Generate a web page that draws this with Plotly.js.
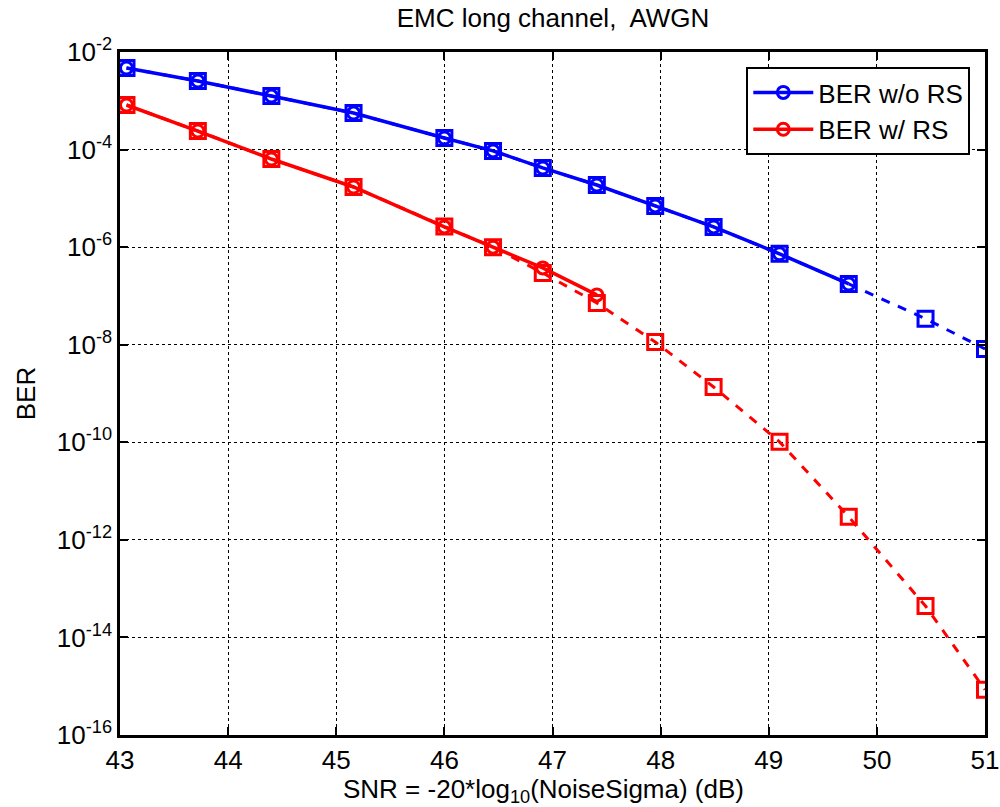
<!DOCTYPE html>
<html><head><meta charset="utf-8">
<script src="https://cdn.plot.ly/plotly-3.0.1.min.js"></script>
<style>html,body{margin:0;padding:0;background:#fff}#chart{width:1000px;height:807px}</style>
</head><body><div id="chart"></div>
<script>
const snr = [43.06, 43.72, 44.40, 45.16, 46.00, 46.45, 46.91, 47.41, 47.95, 48.49, 49.10, 49.74, 50.45, 51.00];
const berNoRsCircle = [4.7e-3, 2.55e-3, 1.25e-3, 5.6e-4, 1.73e-4, 9.4e-5, 4.2e-5, 1.88e-5, 7.0e-6, 2.6e-6, 7.3e-7, 1.76e-7];
const berNoRsSquare = [4.7e-3, 2.55e-3, 1.25e-3, 5.6e-4, 1.73e-4, 9.4e-5, 4.2e-5, 1.88e-5, 7.0e-6, 2.6e-6, 7.3e-7, 1.76e-7, 3.4e-8, 8.2e-9];
const berRsCircle = [8.2e-4, 2.4e-4, 6.4e-5, 1.71e-5, 2.6e-6, 1.0e-6, 3.75e-7, 1.05e-7];
const berRsSquare = [8.2e-4, 2.4e-4, 6.4e-5, 1.71e-5, 2.65e-6, 1.0e-6, 2.96e-7, 7.2e-8, 1.14e-8, 1.36e-9, 1.02e-10, 2.96e-12, 4.4e-14, 8.5e-16];
const yTickVals = [1e-16, 1e-14, 1e-12, 1e-10, 1e-8, 1e-6, 1e-4, 1e-2];
const yTickText = ['10<sup>-16</sup>','10<sup>-14</sup>','10<sup>-12</sup>','10<sup>-10</sup>','10<sup>-8</sup>','10<sup>-6</sup>','10<sup>-4</sup>','10<sup>-2</sup>'];
const xTickVals = [43,44,45,46,47,48,49,50,51];
const xTitle = 'SNR = -20*log<sub>10</sub>(NoiseSigma) (dB)';

const BLUE = '#0000ff', RED = '#ff0000';
const traces = [
  {x: snr, y: berNoRsSquare, mode: 'lines+markers', showlegend: false,
   line: {color: BLUE, width: 3, dash: 'dash'},
   marker: {symbol: 'square-open', size: 15, color: BLUE, line: {width: 3, color: BLUE}}},
  {x: snr, y: berRsSquare, mode: 'lines+markers', showlegend: false,
   line: {color: RED, width: 3, dash: 'dash'},
   marker: {symbol: 'square-open', size: 15, color: RED, line: {width: 3, color: RED}}},
  {x: snr.slice(0, berNoRsCircle.length), y: berNoRsCircle, mode: 'lines+markers', name: 'BER w/o RS',
   line: {color: BLUE, width: 3.5},
   marker: {symbol: 'circle-open', size: 12, color: BLUE, line: {width: 3, color: BLUE}}},
  {x: snr.slice(0, berRsCircle.length), y: berRsCircle, mode: 'lines+markers', name: 'BER w/ RS',
   line: {color: RED, width: 3.5},
   marker: {symbol: 'circle-open', size: 12, color: RED, line: {width: 3, color: RED}}}
];

const layout = {
  width: 1000, height: 807,
  margin: {l: 120, r: 15, t: 52, b: 72},
  paper_bgcolor: '#fff', plot_bgcolor: '#fff',
  font: {family: 'Liberation Sans, Arial, sans-serif', size: 26, color: '#000'},
  title: {text: 'EMC long channel,  AWGN', x: 0.553, xanchor: 'center', y: 0.978, yanchor: 'middle', font: {size: 26}},
  xaxis: {
    range: [43, 51], tickvals: xTickVals, ticks: 'inside', ticklen: 8, tickwidth: 1.5, tickcolor: '#000',
    showline: true, linecolor: '#000', linewidth: 2.5, mirror: 'ticks', tickfont: {size: 26},
    showgrid: true, gridcolor: '#000', gridwidth: 1, griddash: 'dot', zeroline: false
  },
  yaxis: {
    type: 'log', range: [-16, -2], tickvals: yTickVals, ticktext: yTickText,
    ticks: 'inside', ticklen: 8, tickwidth: 1.5, tickcolor: '#000', tickfont: {size: 26},
    showline: true, linecolor: '#000', linewidth: 2.5, mirror: 'ticks',
    showgrid: true, gridcolor: '#000', gridwidth: 1, griddash: 'dot', zeroline: false,
    title: {text: 'BER', font: {size: 26}, standoff: 14}
  },
  annotations: [{text: xTitle, xref: 'paper', yref: 'paper', x: 0.49, y: -0.054,
    xanchor: 'center', yanchor: 'top', showarrow: false, font: {size: 26}}],
  legend: {x: 0.983, y: 0.978, xanchor: 'right', yanchor: 'top', bgcolor: '#fff',
    bordercolor: '#000', borderwidth: 2, font: {size: 26}, itemwidth: 60, tracegroupgap: 0}
};
Plotly.newPlot('chart', traces, layout, {displayModeBar: false});
</script></body></html>
